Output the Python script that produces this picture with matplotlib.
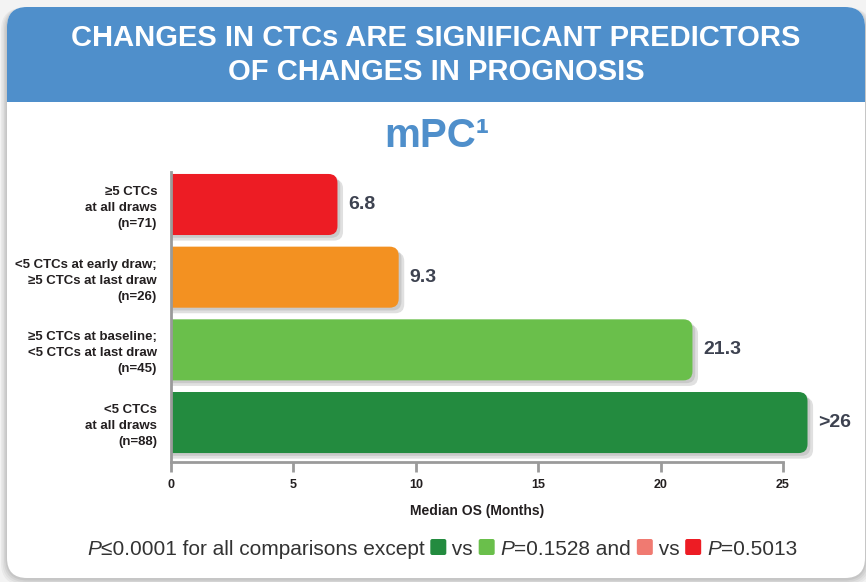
import matplotlib
matplotlib.use("Agg")
import matplotlib.pyplot as plt
from matplotlib.patches import FancyBboxPatch, Rectangle
from matplotlib import patheffects as pe
from matplotlib import font_manager as fm

# ---------------- data ----------------
categories = [
    "\u22655 CTCs\nat all draws\n(n=71)",
    "<5 CTCs at early draw;\n\u22655 CTCs at last draw\n(n=26)",
    "\u22655 CTCs at baseline;\n<5 CTCs at last draw\n(n=45)",
    "<5 CTCs\nat all draws\n(n=88)",
]
median_os = [6.8, 9.3, 21.3, 26]
value_labels = ["6.8", "9.3", "21.3", ">26"]
bar_colors = ["#ed1c24", "#f39121", "#6abf4b", "#238b3f"]
x_ticks = [0, 5, 10, 15, 20, 25]

title = "CHANGES IN CTCs ARE SIGNIFICANT PREDICTORS\nOF CHANGES IN PROGNOSIS"
subtitle = "mPC\u00b9"
xlabel = "Median OS (Months)"

# ---------------- fonts ----------------
def have(fam):
    try:
        fm.findfont(fm.FontProperties(family=fam), fallback_to_default=False)
        return True
    except Exception:
        return False

SANS = "Liberation Sans" if have("Liberation Sans") else "DejaVu Sans"

W, H = 866, 582
fig = plt.figure(figsize=(W / 100, H / 100), dpi=100, facecolor="#f3f3f3")

# background axes in pixel coordinates
bg = fig.add_axes([0, 0, 1, 1], zorder=0)
bg.set_xlim(0, W)
bg.set_ylim(H, 0)
bg.axis("off")

# card shadow
for i, a in enumerate([0.04, 0.04, 0.05, 0.06]):
    off = 6 - i * 1.5
    bg.add_patch(FancyBboxPatch((7 - off, 7 + 1), 858 + 2 * off, 571 + off,
                                boxstyle="round,pad=0,rounding_size=22",
                                fc="#000000", ec="none", alpha=a))
# card
bg.add_patch(FancyBboxPatch((7, 7), 858, 571, boxstyle="round,pad=0,rounding_size=20",
                            fc="white", ec="none"))
# header
bg.add_patch(FancyBboxPatch((7, 7), 858, 120, boxstyle="round,pad=0,rounding_size=20",
                            fc="#4f8fcb", ec="none"))
bg.add_patch(Rectangle((7, 102), 858, 30, fc="white", ec="none"))

bg.text(436, 55, title, ha="center", va="center", color="white",
        fontsize=21, fontweight="bold", family=SANS, linespacing=1.27)

bg.text(437, 136, subtitle, ha="center", va="center", color="#4f8fcb",
        fontsize=29, fontweight="bold", family=SANS)

# ---------------- bar chart ----------------
ax_left, ax_right = 171, 832
ax_top, ax_bot = 172, 462
ax = fig.add_axes([ax_left / W, 1 - ax_bot / H, (ax_right - ax_left) / W, (ax_bot - ax_top) / H],
                  zorder=1)
ax.patch.set_alpha(0)

ypos = [3, 2, 1, 0]
bar_h = 0.84
bars = ax.barh(ypos, median_os, height=bar_h, color=bar_colors)
ax.set_xlim(0, 27)
ax.set_ylim(-0.543, 3.447)

xpx = (ax_right - ax_left) / 27.0
ypx = (ax_bot - ax_top) / (3.447 + 0.543)
r = 9 / xpx
aspect = xpx / ypx
for b in bars:
    x0, y0, w, h = b.get_x(), b.get_y(), b.get_width(), b.get_height()
    b.set_visible(False)
    p = FancyBboxPatch((x0 - 1, y0), w + 1, h,
                       boxstyle=f"round,pad=0,rounding_size={r}",
                       mutation_aspect=aspect, fc=b.get_facecolor(), ec="none",
                       zorder=2, clip_on=True)
    p.set_path_effects([pe.SimplePatchShadow(offset=(4, -4), shadow_rgbFace="#999999", alpha=0.3),
                        pe.SimplePatchShadow(offset=(2, -2), shadow_rgbFace="#888888", alpha=0.25),
                        pe.Normal()])
    ax.add_patch(p)
    p.set_clip_path(ax.patch)

for yv, v, lab in zip(ypos, median_os, value_labels):
    ax.text(v + 0.45, yv, lab, ha="left", va="center", fontsize=14, fontweight="bold",
            color="#3d4250", family=SANS, clip_on=False)

for s in ["top", "right"]:
    ax.spines[s].set_visible(False)
for s in ["left", "bottom"]:
    ax.spines[s].set_color("#9a9a9a")
    ax.spines[s].set_linewidth(2)
    ax.spines[s].set_zorder(3)
ax.spines["bottom"].set_bounds(0, 25)

ax.set_xticks(x_ticks)
ax.set_xticklabels([str(t) for t in x_ticks], fontsize=9, fontweight="bold",
                   family=SANS, color="#231f20")
ax.tick_params(axis="x", direction="out", length=7, width=2, color="#9a9a9a", pad=5)
ax.set_yticks(ypos)
ax.set_yticklabels(categories, fontsize=9.5, fontweight="bold", family=SANS,
                   color="#231f20", linespacing=1.45)
ax.tick_params(axis="y", length=0, pad=10)
ax.set_xlabel(xlabel, fontsize=10, fontweight="bold", family=SANS, color="#231f20")
ax.xaxis.set_label_coords(12.5 / 27, -0.145)

# ---------------- footnote ----------------
fig.canvas.draw()
renderer = fig.canvas.get_renderer()
FS = 15
fam = [SANS, "DejaVu Sans"]
pieces = [
    ("t", "P", "italic"), ("t", "\u22640.0001 for all comparisons except ", "normal"),
    ("s", "#238b3f"), ("t", " vs ", "normal"), ("s", "#6abf4b"),
    ("t", " ", "normal"), ("t", "P", "italic"), ("t", "=0.1528 and ", "normal"),
    ("s", "#f07a71"), ("t", " vs ", "normal"), ("s", "#ed1c24"),
    ("t", " ", "normal"), ("t", "P", "italic"), ("t", "=0.5013", "normal"),
]
SQ = 16
base_y = 555
items = []
total = 0
for pc in pieces:
    if pc[0] == "t":
        t = bg.text(0, base_y, pc[1], fontsize=FS, family=fam, style=pc[2],
                    color="#333333", ha="left", va="baseline")
        wdt = t.get_window_extent(renderer).width
        items.append(("t", t, wdt))
    else:
        wdt = SQ
        items.append(("s", pc[1], wdt))
    total += wdt
x = 442 - total / 2
for kind, obj, wdt in items:
    if kind == "t":
        obj.set_x(x)
    else:
        bg.add_patch(FancyBboxPatch((x, 539), SQ, SQ, boxstyle="round,pad=0,rounding_size=2",
                                    fc=obj, ec="none"))
    x += wdt

fig.savefig("out.png", dpi=100, facecolor=fig.get_facecolor())
